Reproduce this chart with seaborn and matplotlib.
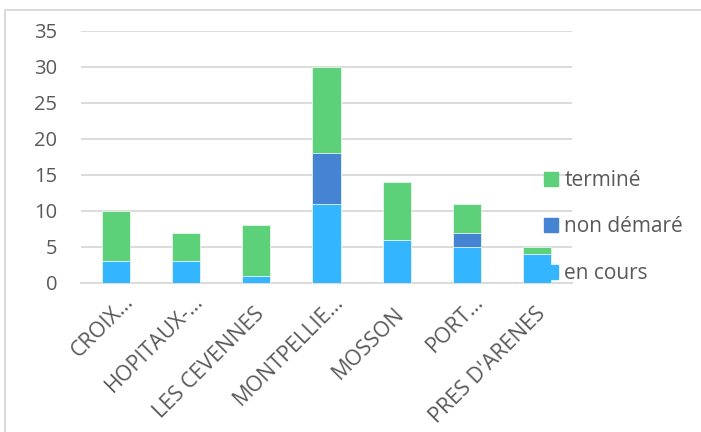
import numpy as np
import pandas as pd
import matplotlib
matplotlib.use("Agg")
import matplotlib.pyplot as plt
import seaborn as sns
from matplotlib.patches import Patch, Rectangle
from matplotlib.transforms import ScaledTranslation

categories = ["CROIX\u2026", "HOPITAUX-\u2026", "LES CEVENNES", "MONTPELLIE\u2026",
              "MOSSON", "PORT\u2026", "PRES D'ARENES"]
en_cours = [3, 3, 1, 11, 6, 5, 4]
non_demare = [0, 0, 0, 7, 0, 2, 0]
termine = [7, 4, 7, 12, 8, 4, 1]
y_ticks = [0, 5, 10, 15, 20, 25, 30, 35]

c_en_cours = "#33B5FF"
c_non_demare = "#4584D3"
c_termine = "#5DD07A"
text_col = "#595959"
grid_col = "#D9D9D9"

sns.set_style("white")
plt.rcParams["font.family"] = ["Open Sans", "DejaVu Sans"]

df = pd.DataFrame({"site": categories,
                   "en_cours": en_cours,
                   "non_demare": non_demare,
                   "termine": termine})
df["lvl1"] = df["en_cours"]
df["lvl2"] = df["lvl1"] + df["non_demare"]
df["lvl3"] = df["lvl2"] + df["termine"]

fig = plt.figure(figsize=(7.01, 4.32), dpi=100)
ax = fig.add_axes([81 / 701, 1 - 283 / 432, (572 - 81) / 701, (283 - 31) / 432])

# stacked bars: draw cumulative totals from top layer down
for col, colr in [("lvl3", c_termine), ("lvl2", c_non_demare), ("lvl1", c_en_cours)]:
    sns.barplot(data=df, x="site", y=col, color=colr, width=0.4,
                edgecolor="#E8F6EC", linewidth=0.6, saturation=1, ax=ax, zorder=3)

ax.set_ylim(0, 35)
ax.set_yticks(y_ticks)
ax.set_xlim(-0.5, len(categories) - 0.5)
ax.yaxis.grid(True, color=grid_col, linewidth=1.3, zorder=0)
ax.set_axisbelow(True)
for s in ["top", "right", "left"]:
    ax.spines[s].set_visible(False)
ax.spines["bottom"].set_color(grid_col)
ax.spines["bottom"].set_linewidth(1.3)
ax.set_xlabel("")
ax.set_ylabel("")
ax.tick_params(axis="both", length=0, colors=text_col)
ax.tick_params(axis="y", pad=17, labelsize=14.5)
ax.tick_params(axis="x", pad=0, labelsize=15.5)

# excel-like rotated labels; truncated ones sit a bit higher
for lab in ax.get_xticklabels():
    if lab.get_text().endswith("\u2026"):
        dx, dy = 18, -19
    else:
        dx, dy = 9, -32
    lab.set_rotation(45)
    lab.set_ha("right")
    lab.set_va("baseline")
    lab.set_rotation_mode("anchor")
    lab.set_transform(lab.get_transform()
                      + ScaledTranslation(dx / 100, dy / 100, fig.dpi_scale_trans))

handles = [Patch(color=c_termine, label="terminé"),
           Patch(color=c_non_demare, label="non démaré"),
           Patch(color=c_en_cours, label="en cours")]
fig.legend(handles=handles, loc="center left", bbox_to_anchor=(544 / 701, 1 - 227 / 432),
           frameon=False, fontsize=15, labelcolor=text_col, handlelength=0.67,
           handleheight=0.67, handletextpad=0.3, labelspacing=1.22,
           borderpad=0, borderaxespad=0)

fig.patches.append(Rectangle((5 / 701, -0.1), 1.0, 1 - 10 / 432 + 0.1,
                             transform=fig.transFigure, fill=False,
                             edgecolor=grid_col, linewidth=1.3))

fig.savefig("out.png", dpi=100)
